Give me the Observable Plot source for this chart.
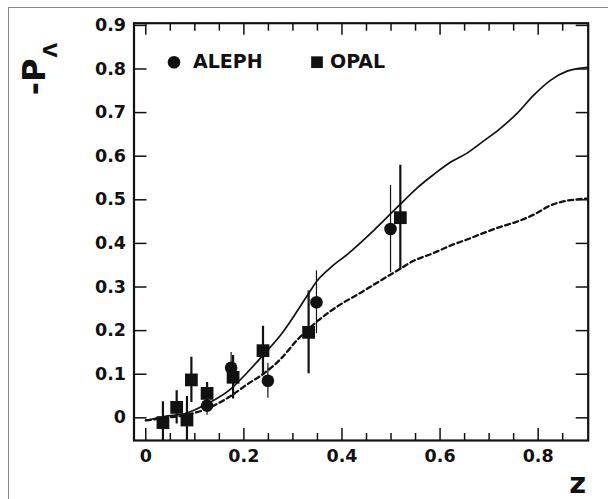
<!DOCTYPE html>
<html><head><meta charset="utf-8">
<script src="https://cdn.jsdelivr.net/npm/d3@7"></script>
<script src="https://cdn.jsdelivr.net/npm/@observablehq/plot@0.6"></script>
<style>
body{margin:0;background:#fff;}
#wrap{position:relative;width:608px;height:499px;overflow:hidden;background:#fff;}
#border{position:absolute;left:8px;top:7px;right:-2px;bottom:-2px;border-top:1px solid #8a8a8a;border-left:1px solid #8a8a8a;}
#wrap svg{position:absolute;left:0;top:0;}
</style></head><body><div id="wrap"><div id="border"></div></div>
<script>
// ALEPH measurements (circles)
const alephZ = [0.125, 0.174, 0.249, 0.348, 0.499];
const alephP = [0.028, 0.115, 0.085, 0.265, 0.433];
const alephErr = [0.022, 0.035, 0.040, 0.072, 0.100];
// OPAL measurements (squares)
const opalZ = [0.035, 0.063, 0.084, 0.093, 0.125, 0.178, 0.239, 0.332, 0.519];
const opalP = [-0.011, 0.024, -0.005, 0.087, 0.056, 0.093, 0.154, 0.196, 0.459];
const opalErr = [0.048, 0.038, 0.054, 0.052, 0.025, 0.050, 0.056, 0.095, 0.120];
// Solid curve
const solidZ = [0, 0.037, 0.084, 0.125, 0.173, 0.207, 0.241, 0.275, 0.329, 0.349, 0.375, 0.411, 0.465, 0.519, 0.553, 0.587, 0.621, 0.655, 0.689, 0.723, 0.757, 0.791, 0.825, 0.859, 0.880, 0.900];
const solidP = [-0.006, 0.003, 0.011, 0.032, 0.066, 0.104, 0.146, 0.190, 0.280, 0.314, 0.343, 0.375, 0.430, 0.490, 0.527, 0.558, 0.586, 0.607, 0.635, 0.664, 0.698, 0.740, 0.774, 0.795, 0.801, 0.804];
// Dashed curve
const dashZ = [0, 0.040, 0.084, 0.125, 0.173, 0.207, 0.241, 0.275, 0.310, 0.343, 0.377, 0.444, 0.513, 0.546, 0.587, 0.621, 0.655, 0.689, 0.723, 0.757, 0.791, 0.825, 0.859, 0.880, 0.900];
const dashP = [-0.006, 0.000, 0.007, 0.021, 0.050, 0.077, 0.102, 0.135, 0.180, 0.215, 0.245, 0.291, 0.338, 0.360, 0.378, 0.395, 0.409, 0.424, 0.438, 0.450, 0.466, 0.487, 0.498, 0.501, 0.503];
// Axis ticks
const xTickLabels = [0, 0.2, 0.4, 0.6, 0.8];
const xMinorTicks = [0.05, 0.1, 0.15, 0.25, 0.3, 0.35, 0.45, 0.5, 0.55, 0.65, 0.7, 0.75, 0.85];
const yTickLabels = [0, 0.1, 0.2, 0.3, 0.4, 0.5, 0.6, 0.7, 0.8, 0.9];
const legendLabels = ["ALEPH", "OPAL"];

const aleph = alephZ.map((z, i) => ({z, p: alephP[i], e: alephErr[i]}));
const opal = opalZ.map((z, i) => ({z, p: opalP[i], e: opalErr[i]}));
const solid = solidZ.map((z, i) => ({z, p: solidP[i]}));
const dashed = dashZ.map((z, i) => ({z, p: dashP[i]}));

const W = 608, H = 499, mL = 133.5, mR = 20.3, mT = 22.7, mB = 59;
const fw = W - mL - mR, fh = H - mT - mB;
const fmt = d => d === 0 ? "0" : d.toFixed(1);
const font = "DejaVu Sans";

const chart = Plot.plot({
  width: W, height: H,
  marginLeft: mL, marginRight: mR, marginTop: mT, marginBottom: mB,
  x: {domain: [-0.024, 0.902]},
  y: {domain: [-0.052, 0.905]},
  style: {fontFamily: font, fontWeight: "bold", background: "transparent", color: "#111"},
  marks: [
    // ticks (inward)
    Plot.tickX(xTickLabels, {x: d => d, insetTop: fh - 12, stroke: "#111", strokeWidth: 1.5}),
    Plot.tickX(xMinorTicks, {x: d => d, insetTop: fh - 7, stroke: "#111", strokeWidth: 1.5}),
    Plot.tickX(xTickLabels, {x: d => d, insetBottom: fh - 12, stroke: "#111", strokeWidth: 1.5}),
    Plot.tickX(xMinorTicks, {x: d => d, insetBottom: fh - 8, stroke: "#111", strokeWidth: 1.5}),
    Plot.tickY(yTickLabels, {y: d => d, insetRight: fw - 13, stroke: "#111", strokeWidth: 1.5}),
    Plot.tickY(yTickLabels, {y: d => d, insetLeft: fw - 12, stroke: "#111", strokeWidth: 1.5}),
    Plot.axisX({ticks: xTickLabels, tickSize: 0, tickPadding: 9, tickFormat: fmt, fontSize: 17.5, fontWeight: "bold", style: "letter-spacing:1.5px", label: null}),
    Plot.axisY({ticks: yTickLabels, tickSize: 0, tickPadding: 8, tickFormat: fmt, fontSize: 17.5, fontWeight: "bold", style: "letter-spacing:1.5px", label: null}),
    // curves
    Plot.line(solid, {x: "z", y: "p", stroke: "#111", strokeWidth: 1.7, curve: "monotone-x", clip: true}),
    Plot.line(dashed, {x: "z", y: "p", stroke: "#111", strokeWidth: 2.3, strokeDasharray: "5,3.5", curve: "monotone-x", clip: true}),
    // error bars
    Plot.ruleX(aleph, {x: "z", y1: d => d.p - d.e, y2: d => d.p + d.e, stroke: "#111", strokeWidth: 1.2, clip: true}),
    Plot.ruleX(opal, {x: "z", y1: d => d.p - d.e, y2: d => d.p + d.e, stroke: "#111", strokeWidth: 2.2, clip: true}),
    // markers
    Plot.dot(aleph, {x: "z", y: "p", r: 6.3, symbol: "circle", fill: "#111"}),
    Plot.dot(opal, {x: "z", y: "p", r: 7.2, symbol: "square", fill: "#111"}),
    // legend
    Plot.dot([legendLabels[0]], {frameAnchor: "top-left", dx: 40, dy: 39, r: 6.3, symbol: "circle", fill: "#111"}),
    Plot.text([legendLabels[0]], {text: d => d, frameAnchor: "top-left", dx: 59, dy: 39, lineAnchor: "middle", textAnchor: "start", fontSize: 19, fontWeight: "bold", fill: "#111", style: "letter-spacing:1.2px"}),
    Plot.dot([legendLabels[1]], {frameAnchor: "top-left", dx: 183, dy: 39, r: 6.6, symbol: "square", fill: "#111"}),
    Plot.text([legendLabels[1]], {text: d => d, frameAnchor: "top-left", dx: 196, dy: 39, lineAnchor: "middle", textAnchor: "start", fontSize: 19, fontWeight: "bold", fill: "#111", style: "letter-spacing:1.2px"}),
    Plot.frame({stroke: "#111", strokeWidth: 2.2})
  ]
});

const svg = d3.select(chart);
// y label: -P with subscript Lambda, rotated
const yl = svg.append("text")
  .attr("transform", "translate(45,69) rotate(-90)")
  .attr("font-family", font).attr("font-weight", "bold").attr("fill", "#111");
yl.append("tspan").attr("font-size", 32).text("-P");
yl.append("tspan").attr("font-size", 19).attr("dy", 12).attr("dx", 1).text("Λ");
// x label
svg.append("text")
  .attr("x", W - mR - 10).attr("y", 493)
  .attr("text-anchor", "middle")
  .attr("font-family", font).attr("font-weight", "bold").attr("font-size", 29).attr("fill", "#111")
  .text("z");

document.getElementById("wrap").appendChild(chart);
</script>
</body></html>
